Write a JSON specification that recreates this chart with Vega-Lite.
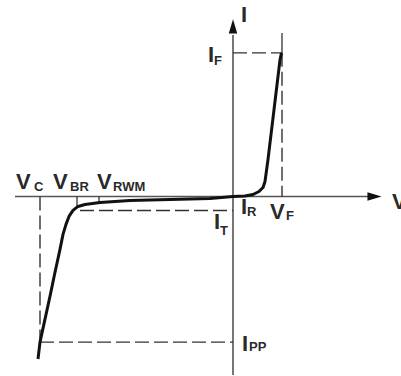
{
  "$schema": "https://vega.github.io/schema/vega-lite/v6.json",
  "width": 401,
  "height": 376,
  "autosize": {"type": "fit", "contains": "padding"},
  "padding": 0,
  "background": "white",
  "config": {"view": {"stroke": null}},
  "datasets": {
    "rules": [
      {"kind": "axis", "v": -21.8, "i": 0, "v2": 13.7, "i2": 0},
      {"kind": "axis", "v": 0, "i": -17.9, "v2": 0, "i2": 16.2},
      {"kind": "dash", "v": 0, "i": 14.4, "v2": 4.9, "i2": 14.4},
      {"kind": "dash", "v": 4.9, "i": 14.4, "v2": 4.9, "i2": 0},
      {"kind": "dash", "v": -19.3, "i": 0, "v2": -19.3, "i2": -14.6},
      {"kind": "dash", "v": -19.3, "i": -14.6, "v2": 0, "i2": -14.6},
      {"kind": "dash", "v": -15.3, "i": -1.4, "v2": 0, "i2": -1.4},
      {"kind": "thin", "v": 4.9, "i": 14.4, "v2": 4.9, "i2": 16.4},
      {"kind": "thin", "v": -15.6, "i": 0, "v2": -15.6, "i2": -1.0},
      {"kind": "thin", "v": -13.4, "i": 0, "v2": -13.4, "i2": -0.6}
    ],
    "arrows": [
      {"dir": "right", "v": 14.15, "i": 0},
      {"dir": "up", "v": 0, "i": 17.05}
    ],
    "curve": [
      {"o": 1, "v": -19.5, "i": -16.3},
      {"o": 2, "v": -19.3, "i": -14.6},
      {"o": 3, "v": -18.8, "i": -12.3},
      {"o": 4, "v": -18.3, "i": -10.0},
      {"o": 5, "v": -17.8, "i": -7.6},
      {"o": 6, "v": -17.3, "i": -5.3},
      {"o": 7, "v": -17.0, "i": -3.8},
      {"o": 8, "v": -16.7, "i": -2.8},
      {"o": 9, "v": -16.4, "i": -2.0},
      {"o": 10, "v": -16.0, "i": -1.4},
      {"o": 11, "v": -15.5, "i": -1.0},
      {"o": 12, "v": -14.8, "i": -0.8},
      {"o": 13, "v": -13.3, "i": -0.6},
      {"o": 14, "v": -10.3, "i": -0.4},
      {"o": 15, "v": -6.3, "i": -0.3},
      {"o": 16, "v": -2.3, "i": -0.2},
      {"o": 17, "v": 0, "i": 0},
      {"o": 18, "v": 1.2, "i": 0.05},
      {"o": 19, "v": 2.0, "i": 0.2},
      {"o": 20, "v": 2.6, "i": 0.5},
      {"o": 21, "v": 3.0, "i": 0.9},
      {"o": 22, "v": 3.2, "i": 1.5},
      {"o": 23, "v": 3.5, "i": 3.7},
      {"o": 24, "v": 3.8, "i": 6.2},
      {"o": 25, "v": 4.1, "i": 8.7},
      {"o": 26, "v": 4.4, "i": 11.2},
      {"o": 27, "v": 4.7, "i": 13.7},
      {"o": 28, "v": 4.85, "i": 14.4}
    ],
    "labels": [
      {"role": "main", "t": "I", "v": 0.8, "i": 17.5},
      {"role": "main", "t": "I", "v": -2.5, "i": 13.5},
      {"role": "main", "t": "V", "v": -21.7, "i": 0.7},
      {"role": "main", "t": "V", "v": -18.0, "i": 0.7},
      {"role": "main", "t": "V", "v": -13.6, "i": 0.7},
      {"role": "main", "t": "I", "v": 0.8, "i": -1.8},
      {"role": "main", "t": "V", "v": 3.7, "i": -2.3},
      {"role": "main", "t": "I", "v": -1.9, "i": -3.3},
      {"role": "main", "t": "I", "v": 0.9, "i": -15.5},
      {"role": "main", "t": "V", "v": 15.9, "i": -1.3},
      {"role": "sub", "t": "F", "v": -1.9, "i": 13.2},
      {"role": "sub", "t": "C", "v": -19.9, "i": 0.5},
      {"role": "sub", "t": "BR", "v": -16.3, "i": 0.5},
      {"role": "sub", "t": "RWM", "v": -12.0, "i": 0.5},
      {"role": "sub", "t": "R", "v": 1.4, "i": -2.0},
      {"role": "sub", "t": "F", "v": 5.3, "i": -2.4},
      {"role": "sub", "t": "T", "v": -1.3, "i": -3.9},
      {"role": "sub", "t": "PP", "v": 1.6, "i": -15.5}
    ]
  },
  "layer": [
    {
      "data": {"name": "rules"},
      "transform": [{"filter": "datum.kind === 'axis'"}],
      "mark": {"type": "rule", "color": "#555555", "strokeWidth": 1.6},
      "encoding": {
        "x": {"field": "v", "type": "quantitative", "scale": {"domain": [-23.3, 16.8], "nice": false, "zero": false}, "axis": null},
        "y": {"field": "i", "type": "quantitative", "scale": {"domain": [-17.9, 19.7], "nice": false, "zero": false}, "axis": null},
        "x2": {"field": "v2"},
        "y2": {"field": "i2"}
      }
    },
    {
      "data": {"name": "rules"},
      "transform": [{"filter": "datum.kind === 'dash'"}],
      "mark": {"type": "rule", "color": "#333333", "strokeWidth": 1.4, "strokeDash": [14, 5]},
      "encoding": {
        "x": {"field": "v", "type": "quantitative", "scale": {"domain": [-23.3, 16.8], "nice": false, "zero": false}, "axis": null},
        "y": {"field": "i", "type": "quantitative", "scale": {"domain": [-17.9, 19.7], "nice": false, "zero": false}, "axis": null},
        "x2": {"field": "v2"},
        "y2": {"field": "i2"}
      }
    },
    {
      "data": {"name": "rules"},
      "transform": [{"filter": "datum.kind === 'thin'"}],
      "mark": {"type": "rule", "color": "#333333", "strokeWidth": 1.3},
      "encoding": {
        "x": {"field": "v", "type": "quantitative", "scale": {"domain": [-23.3, 16.8], "nice": false, "zero": false}, "axis": null},
        "y": {"field": "i", "type": "quantitative", "scale": {"domain": [-17.9, 19.7], "nice": false, "zero": false}, "axis": null},
        "x2": {"field": "v2"},
        "y2": {"field": "i2"}
      }
    },
    {
      "data": {"name": "arrows"},
      "mark": {"type": "point", "filled": true, "color": "#111111", "opacity": 1, "size": 200},
      "encoding": {
        "x": {"field": "v", "type": "quantitative", "scale": {"domain": [-23.3, 16.8], "nice": false, "zero": false}, "axis": null},
        "y": {"field": "i", "type": "quantitative", "scale": {"domain": [-17.9, 19.7], "nice": false, "zero": false}, "axis": null},
        "shape": {"field": "dir", "type": "nominal", "scale": {"domain": ["right", "up"], "range": ["M1,0L-1,-0.6L-1,0.6Z", "M0,-1L-0.6,1L0.6,1Z"]}, "legend": null}
      }
    },
    {
      "data": {"name": "curve"},
      "mark": {"type": "line", "color": "#111111", "strokeWidth": 3, "interpolate": "linear", "strokeJoin": "round"},
      "encoding": {
        "x": {"field": "v", "type": "quantitative", "scale": {"domain": [-23.3, 16.8], "nice": false, "zero": false}, "axis": null},
        "y": {"field": "i", "type": "quantitative", "scale": {"domain": [-17.9, 19.7], "nice": false, "zero": false}, "axis": null},
        "order": {"field": "o", "type": "quantitative"}
      }
    },
    {
      "data": {"name": "labels"},
      "transform": [{"filter": "datum.role === 'main'"}],
      "mark": {"type": "text", "align": "left", "baseline": "alphabetic", "font": "Liberation Sans", "fontSize": 22, "fontWeight": "bold", "color": "#2a2a2a", "clip": true},
      "encoding": {
        "x": {"field": "v", "type": "quantitative", "scale": {"domain": [-23.3, 16.8], "nice": false, "zero": false}, "axis": null},
        "y": {"field": "i", "type": "quantitative", "scale": {"domain": [-17.9, 19.7], "nice": false, "zero": false}, "axis": null},
        "text": {"field": "t"}
      }
    },
    {
      "data": {"name": "labels"},
      "transform": [{"filter": "datum.role === 'sub'"}],
      "mark": {"type": "text", "align": "left", "baseline": "alphabetic", "font": "Liberation Sans", "fontSize": 13, "fontWeight": "bold", "color": "#2a2a2a"},
      "encoding": {
        "x": {"field": "v", "type": "quantitative", "scale": {"domain": [-23.3, 16.8], "nice": false, "zero": false}, "axis": null},
        "y": {"field": "i", "type": "quantitative", "scale": {"domain": [-17.9, 19.7], "nice": false, "zero": false}, "axis": null},
        "text": {"field": "t"}
      }
    }
  ]
}
